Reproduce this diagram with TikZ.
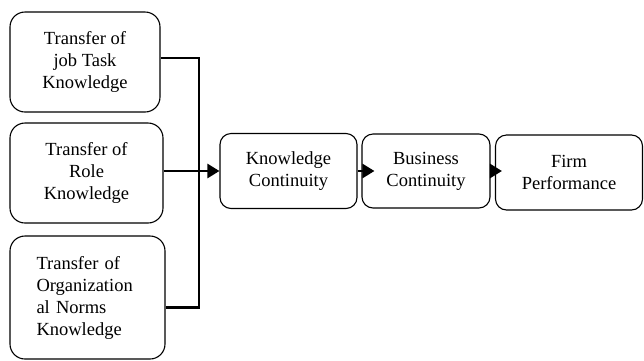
\documentclass[tikz,border=0pt]{standalone}
\usepackage{fontspec}
\setmainfont{Liberation Serif}
\usetikzlibrary{arrows.meta}
\begin{document}
\begin{tikzpicture}[x=1pt,y=-1pt,
  box/.style={draw, line width=1.1pt, align=center, inner sep=0pt,
    font=\fontsize{18.5}{22}\selectfont},
  bigbox/.style={box, rounded corners=15pt},
  midbox/.style={box, rounded corners=11pt},
  conn/.style={line width=2.6pt},
  arr/.style={line width=2.6pt, -{Triangle[length=12pt,width=14pt]}}
]
\useasboundingbox (0,0) rectangle (644,360);
\node[bigbox, minimum width=150pt, minimum height=100pt] (a) at (85,62) {Transfer of\\job Task\\Knowledge};
\node[bigbox, minimum width=153pt, minimum height=100pt] (b) at (86.5,173) {Transfer of\\Role\\Knowledge};
\node[bigbox, minimum width=155pt, minimum height=123pt, align=left, text width=102pt] (c) at (87.5,297.5) {Transfer of\\Organization\\al Norms\\Knowledge};
\node[midbox, minimum width=137pt, minimum height=75pt] (k) at (288.5,171) {Knowledge\\Continuity};
\node[midbox, minimum width=128pt, minimum height=74pt] (u) at (426,171) {Business\\Continuity};
\node[midbox, minimum width=147pt, minimum height=75pt] (f) at (569,172.5) {Firm\\Performance};
\coordinate (j) at (199,171);
\draw[conn] ([yshift=4pt]a.east) -| (j);
\draw[conn] ([yshift=-10pt]c.east) -| (j);
\draw[arr] (b.east |- j) -- (k.west);
\draw[arr] (k.east) -- ([xshift=13pt]u.west);
\draw[arr] (u.east) -- ([xshift=7pt]f.west |- u.east);
\end{tikzpicture}
\end{document}
